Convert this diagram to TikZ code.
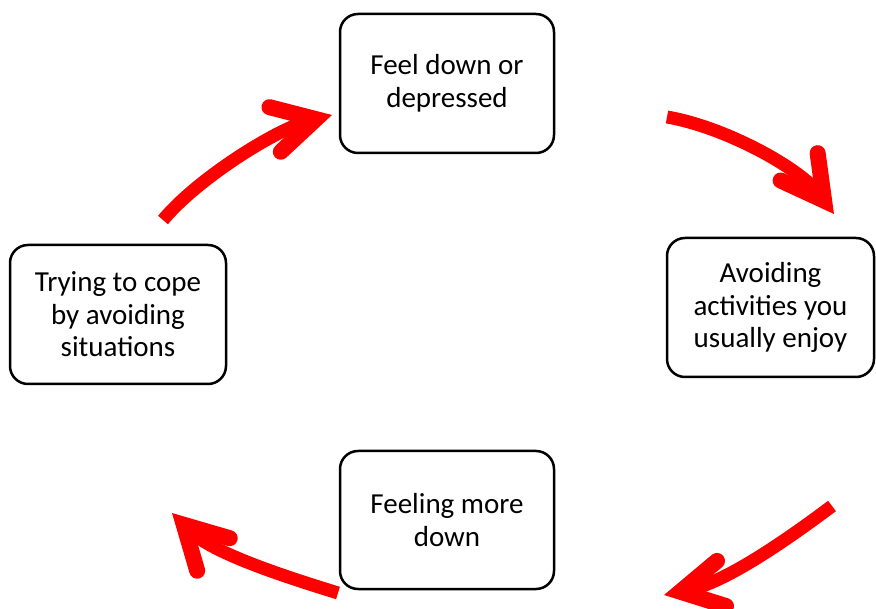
\documentclass[tikz,border=0pt]{standalone}
\usepackage{fontspec}
\setmainfont{Carlito}
\usetikzlibrary{arrows.meta}
\begin{document}
\begin{tikzpicture}[x=1pt,y=-1pt,
  box/.style={draw=black, line width=2.5pt, rounded corners=18pt, align=center,
    font=\fontsize{29}{32.5}\selectfont, inner sep=0pt},
  cyc/.style={draw=red, line width=13pt,
    -{Straight Barb[length=42pt,width=46pt,line width=16pt,line cap=round,line join=miter]}}]
\useasboundingbox (0,0) rectangle (876,609);

% the four stages of the cycle
\node[box, minimum width=214pt, minimum height=139pt] (feel)  at (447,83.5)   {Feel down or\\depressed};
\node[box, minimum width=207pt, minimum height=139pt] (avoid) at (770.5,307.5) {Avoiding\\activities you\\usually enjoy};
\node[box, minimum width=214pt, minimum height=138pt] (more)  at (447,520)    {Feeling more\\down};
\node[box, minimum width=216pt, minimum height=139pt] (cope)  at (118,314.5)  {Trying to cope\\by avoiding\\situations};

% arrow ends
\coordinate (a1s) at (667,117);  \coordinate (a1e) at (834,214);
\coordinate (a2s) at (832,506);  \coordinate (a2e) at (664,595);
\coordinate (a3s) at (338,593);  \coordinate (a3e) at (172,513);
\coordinate (a4s) at (163,220);  \coordinate (a4e) at (332,115);

% curved arrows linking the stages
\draw[cyc] (a1s) .. controls (725,127) and (800,168) .. (a1e);
\draw[cyc] (a2s) .. controls (784,542) and (724,583) .. (a2e);
\draw[cyc] (a3s) .. controls (283,576) and (212,553) .. (a3e);
\draw[cyc] (a4s) .. controls (198,178) and (277,129) .. (a4e);
\end{tikzpicture}
\end{document}
